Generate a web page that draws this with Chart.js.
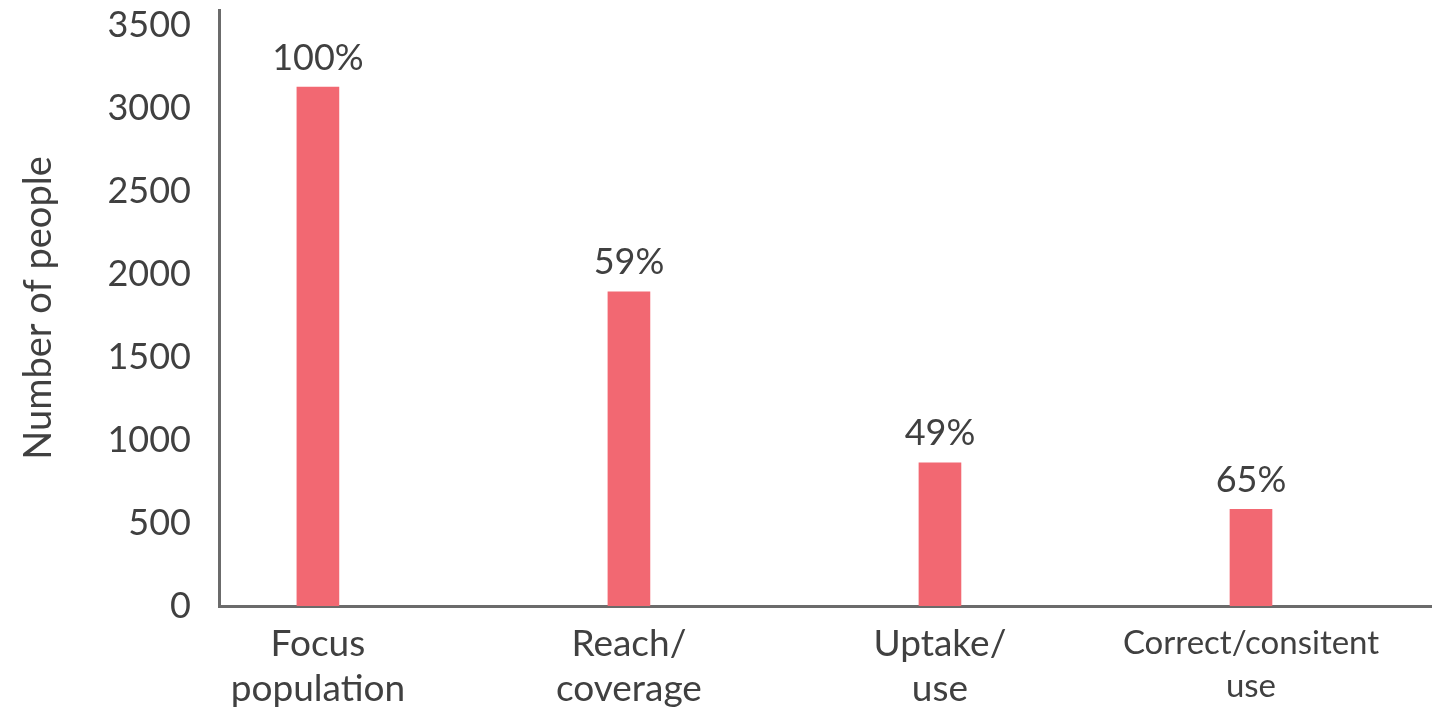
<!DOCTYPE html>
<html>
<head>
<meta charset="utf-8">
<script src="https://cdn.jsdelivr.net/npm/chart.js@4.4.1/dist/chart.umd.min.js"></script>
<style>
  html, body { margin: 0; padding: 0; background: #fff; overflow: hidden; }
  #wrap { width: 1432px; height: 711px; }
</style>
</head>
<body>
<div id="wrap"><canvas id="chart" width="1432" height="711"></canvas></div>
<script>
const categories = [
    ['Focus', 'population'],
    ['Reach/', 'coverage'],
    ['Uptake/', 'use'],
    ['Correct/consitent', 'use']
];
const peopleCounts = [3125, 1893, 863, 583];
const percentLabels = ['100%', '59%', '49%', '65%'];
const yTicks = [0, 500, 1000, 1500, 2000, 2500, 3000, 3500];

const TEXT = '#404040';
const AXIS = '#6b6b6b';
const FONT = 'Lato, "Noto Sans", sans-serif';

// percentage labels above each bar
const percentPlugin = {
    id: 'percentLabels',
    afterDatasetsDraw(chart) {
        const ctx = chart.ctx;
        const meta = chart.getDatasetMeta(0);
        ctx.save();
        ctx.fillStyle = TEXT;
        ctx.font = '36px ' + FONT;
        ctx.textAlign = 'center';
        ctx.textBaseline = 'middle';
        meta.data.forEach((bar, i) => {
            ctx.fillText(percentLabels[i], bar.x, bar.y - 29);
        });
        ctx.restore();
    }
};

new Chart(document.getElementById('chart'), {
    type: 'bar',
    data: {
        datasets: [{
            data: peopleCounts.map((v, i) => ({ x: i, y: v })),
            backgroundColor: '#f26872',
            borderWidth: 0,
            barThickness: 42
        }]
    },
    options: {
        responsive: false,
        animation: false,
        devicePixelRatio: 1,
        layout: { padding: { top: 10, right: 0, bottom: 0, left: 0 } },
        plugins: { legend: { display: false }, tooltip: { enabled: false } },
        scales: {
            x: {
                type: 'linear',
                offset: false,
                bounds: 'data',
                min: -0.318,
                max: 3.582,
                grid: { display: false },
                border: { color: AXIS, width: 3 },
                afterBuildTicks: s => { s.ticks = categories.map((c, i) => ({ value: i })); },
                afterFit: s => { s.height = 105; s.paddingLeft = 0; s.paddingRight = 0; },
                ticks: {
                    autoSkip: false,
                    maxRotation: 0,
                    padding: 8,
                    color: TEXT,
                    font: c => c.index === 3
                        ? { family: FONT, size: 33, lineHeight: '43px' }
                        : { family: FONT, size: 37, lineHeight: '45px' },
                    callback: v => categories[v]
                }
            },
            y: {
                min: 0,
                max: 3590,
                grid: { display: false },
                border: { color: AXIS, width: 3 },
                afterBuildTicks: s => { s.ticks = yTicks.map(v => ({ value: v })); },
                afterFit: s => { s.width = 219; s.paddingTop = 0; s.paddingBottom = 0; },
                ticks: {
                    padding: 20,
                    color: TEXT,
                    font: { family: FONT, size: 36 },
                    callback: v => String(v)
                },
                title: {
                    display: true,
                    text: 'Number of people',
                    color: TEXT,
                    font: { family: FONT, size: 38 },
                    padding: { top: 16, bottom: 0 }
                }
            }
        }
    },
    plugins: [percentPlugin]
});
</script>
</body>
</html>
